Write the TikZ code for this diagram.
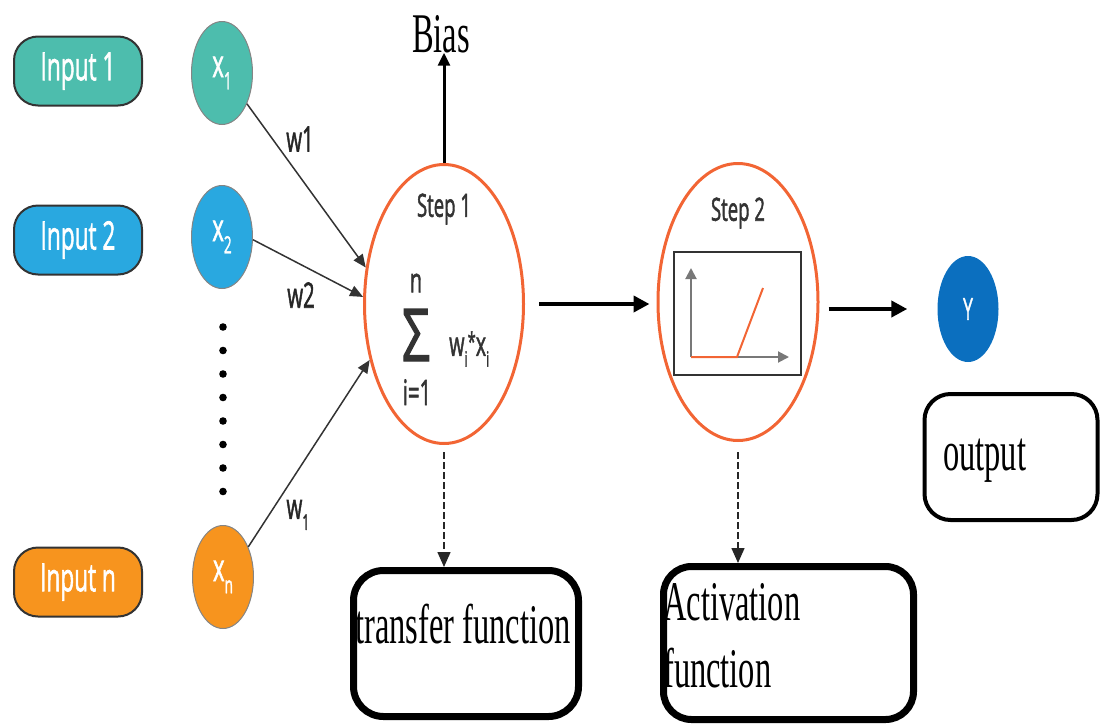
\documentclass[tikz,border=0pt]{standalone}
\usepackage{fontspec}
\setmainfont{Liberation Serif}
\newfontfamily\osans[FakeBold=2]{Open Sans}
\usepackage{graphicx}
\usetikzlibrary{arrows.meta,shapes.geometric}

\definecolor{tealin}{RGB}{77,189,173}
\definecolor{bluein}{RGB}{41,168,224}
\definecolor{orangein}{RGB}{247,148,30}
\definecolor{steporange}{RGB}{242,101,52}
\definecolor{outblue}{RGB}{11,111,191}
\definecolor{darkline}{RGB}{51,51,51}
\definecolor{axisgray}{RGB}{120,120,120}

% narrow, tall lettering used throughout
\newcommand{\sqz}[1]{\scalebox{0.58}[1]{#1}}
% lowered small index
\newcommand{\dn}[1]{\raisebox{-0.32em}{\scalebox{0.62}{#1}}}

\begin{document}
\begin{tikzpicture}[x=1pt,y=-1pt,
  inbox/.style={draw=darkline, line width=2pt, rounded corners=24pt,
    minimum width=128pt, minimum height=69pt, inner sep=0pt, text=white,
    font=\osans\fontsize{39}{44}\selectfont},
  xell/.style={ellipse, draw=darkline!60, line width=1pt, minimum width=61pt,
    minimum height=103pt, inner sep=0pt, text=white,
    font=\osans\fontsize{38}{44}\selectfont},
  stepell/.style={ellipse, draw=steporange, line width=3pt, minimum width=159pt,
    minimum height=279pt, inner sep=0pt},
  sanslab/.style={text=darkline, inner sep=0pt, font=\osans\fontsize{32}{38}\selectfont},
  wlab/.style={text=black!85, inner sep=0pt, font=\osans\fontsize{35}{40}\selectfont},
  seriflab/.style={inner sep=0pt, font=\fontsize{56}{64}\selectfont},
  fbox/.style={draw=black, line width=7pt, rounded corners=30pt},
  inarrow/.style={draw=black!80, line width=1.5pt, -{Triangle[length=13pt,width=11pt]}},
  bigarrow/.style={draw=black, line width=4pt, -{Triangle[length=16pt,width=16pt]}},
  dasharrow/.style={draw=black!85, line width=1.5pt, dash pattern=on 7pt off 3pt,
    -{Triangle[length=15pt,width=13pt]}},
  axis/.style={draw=axisgray, line width=2pt, -{Triangle[length=11pt,width=11pt]}}
]
\useasboundingbox (0,0) rectangle (1101,726);

% input labels
\node[inbox, fill=tealin]   (in1) at (78,71)  {\sqz{Input 1}};
\node[inbox, fill=bluein]   (in2) at (78,240) {\sqz{Input 2}};
\node[inbox, fill=orangein] (inn) at (78,582) {\sqz{Input n}};

% input values
\node[xell, fill=tealin]   (x1) at (222,73)  {\sqz{x\dn{1}}};
\node[xell, fill=bluein]   (x2) at (222,237) {\sqz{x\dn{2}}};
\node[xell, fill=orangein] (xn) at (223,577) {\sqz{x\dn{n}}};

% vertical ellipsis between x2 and xn
\foreach \k in {0,...,7}
  \fill (223,{327+\k*23.5}) circle (3.8pt);

% step 1: weighted sum
\node[stepell] (step1) at (444,304) {};
\node[sanslab] (s1lab) at (444,209) {\sqz{Step 1}};
\node[text=darkline, inner sep=0pt] (sigma) at (416,335)
  {\resizebox{28pt}{52pt}{\osans Σ}};
\node[sanslab, font=\osans\fontsize{34}{40}\selectfont] (sigtop) at (416,283) {\sqz{n}};
\node[sanslab, font=\osans\fontsize{35}{40}\selectfont, anchor=base] (sigbot) at (417,405) {\sqz{i=1}};
\node[sanslab, font=\osans\fontsize{34}{40}\selectfont, anchor=west] (wsum) at (449,349)
  {\sqz{w\dn{i}\raisebox{0.15em}{\scalebox{0.75}{*}}x\dn{i}}};

% step 2: activation
\node[stepell, minimum width=160pt, minimum height=277pt] (step2) at (738,302) {};
\node[sanslab] (s2lab) at (738,213) {\sqz{Step 2}};
\node[draw=darkline, line width=2pt, minimum width=127pt, minimum height=123pt,
  inner sep=0pt] (plot) at (737.5,313.5) {};
\coordinate (org) at (691,357);
\coordinate (ytop) at (691,268);
\coordinate (xend) at (789,357);
\coordinate (kink) at (737,357);
\coordinate (ramp) at (763,288);
\draw[axis] (org) -- (ytop);
\draw[axis] (org) -- (xend);
\draw[steporange, line width=2pt] (org) -- (kink) -- (ramp);

% output neuron
\node[ellipse, fill=outblue, minimum width=61pt, minimum height=106pt, inner sep=0pt,
  text=white, font=\osans\fontsize{30}{36}\selectfont] (yout) at (968,309) {\sqz{Y}};

% captions
\node[seriflab, anchor=base west] (bias) at (412,52) {\sqz{Bias}};
\node[fbox, minimum width=225pt, minimum height=146pt] (tfbox) at (466,643.5) {};
\node[seriflab, anchor=base west] (tftext) at (355,643) {\sqz{transfer function}};
\node[fbox, rounded corners=28pt, minimum width=250pt, minimum height=153pt] (actbox) at (788.5,643) {};
\node[seriflab, anchor=base west] (act1) at (663,620) {\sqz{Activation}};
\node[seriflab, anchor=base west] (act2) at (663,687) {\sqz{function}};
\node[fbox, line width=4pt, rounded corners=26pt, minimum width=173pt, minimum height=126pt] (outbox) at (1011,457) {};
\node[seriflab, anchor=base west] (outtext) at (943,470) {\sqz{output}};

% weighted inputs
\draw[inarrow] (x1.-51) -- (step1.155);
\draw[inarrow] (x2.-5) -- (step1.175);
\draw[inarrow] (xn.50) -- (step1.217);
\node[wlab] (w1) at (300,139) {\sqz{w1}};
\node[wlab] (w2) at (301,295) {\sqz{w2}};
\node[wlab] (wn) at (298,515) {\sqz{w\dn{1}}};

% main flow
\draw[draw=black, line width=3pt, -{Triangle[length=13pt,width=12pt]}]
  (step1.north) -- (step1.north |- bias.south);
\draw[bigarrow, shorten <=14pt, shorten >=7pt] (step1.east) -- (step1.east -| step2.west);
\draw[bigarrow, shorten <=9pt, shorten >=30pt] (yout.west -| step2.east) -- (yout.west);
\draw[dasharrow, shorten <=7pt] (step1.south) -- (step1.south |- tfbox.north);
\draw[dasharrow, shorten <=10pt] (step2.south) -- (step2.south |- actbox.north);
\end{tikzpicture}
\end{document}
